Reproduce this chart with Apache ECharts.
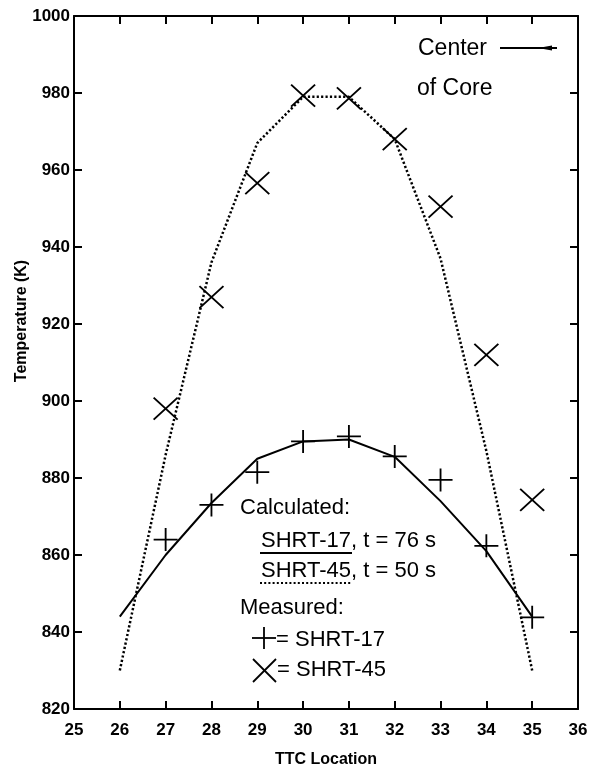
<!DOCTYPE html>
<html>
<head>
<meta charset="utf-8">
<script src="https://cdn.jsdelivr.net/npm/echarts@6/dist/echarts.min.js"></script>
<style>
  html, body { margin: 0; padding: 0; background: #fff; }
  #chart { width: 598px; height: 770px; }
</style>
</head>
<body>
<div id="chart"></div>
<script>
// TTC locations along the core
var locations = [26, 27, 28, 29, 30, 31, 32, 33, 34, 35];
var measLocations = [27, 28, 29, 30, 31, 32, 33, 34, 35];

// calculated profiles (K)
var calc17 = [844, 860, 873.5, 885, 889.5, 890, 885.5, 874, 861, 844];
var calc45 = [830, 886, 936, 967, 979, 979, 968, 937, 887, 830];

// measured (K)
var meas17 = [864, 873, 881.5, 889.5, 890.8, 885.6, 879.5, 862.4, 843.8];
var meas45 = [898, 927, 956.6, 979.3, 978.6, 968, 950.5, 912, 874.3];

var xRange = [25, 36];
var yRange = [820, 1000];

var plusPath = 'path://M0,10L20,10M10,0L10,20';
var crossPath = 'path://M0,0L20,20M20,0L0,20';

function pairs(xs, ys) {
  return xs.map(function (x, i) { return [x, ys[i]]; });
}

var FONT = '"Liberation Sans", Arial, Helvetica, sans-serif';

var chart = echarts.init(document.getElementById('chart'));

var axisLine = { show: true, lineStyle: { color: '#000', width: 2 } };
var tickIn = { show: true, inside: true, length: 8, lineStyle: { color: '#000', width: 2 } };
var tickLabel = { color: '#000', fontFamily: FONT, fontSize: 17, fontWeight: 'bold' };

chart.setOption({
  animation: false,
  backgroundColor: '#fff',
  grid: { left: 74, right: 20, top: 16, bottom: 61, outerBoundsMode: 'none', containLabel: false },
  xAxis: [
    {
      type: 'value', min: xRange[0], max: xRange[1], interval: 1,
      axisLine: axisLine, axisTick: tickIn,
      axisLabel: Object.assign({ margin: 13 }, tickLabel),
      splitLine: { show: false },
      name: 'TTC Location', nameLocation: 'middle', nameGap: 43,
      nameTextStyle: { color: '#000', fontFamily: FONT, fontSize: 16, fontWeight: 'bold' }
    },
    {
      type: 'value', position: 'top', min: xRange[0], max: xRange[1], interval: 1,
      axisLine: axisLine, axisTick: tickIn,
      axisLabel: { show: false }, splitLine: { show: false }
    }
  ],
  yAxis: [
    {
      type: 'value', min: yRange[0], max: yRange[1], interval: 20,
      axisLine: axisLine, axisTick: tickIn,
      axisLabel: Object.assign({ margin: 4, formatter: function (v) { return String(v); } }, tickLabel),
      splitLine: { show: false }
    },
    {
      type: 'value', position: 'right', min: yRange[0], max: yRange[1], interval: 20,
      axisLine: axisLine, axisTick: tickIn,
      axisLabel: { show: false }, splitLine: { show: false }
    }
  ],
  series: [
    {
      name: 'SHRT-17 calc', type: 'line', showSymbol: false,
      data: pairs(locations, calc17),
      lineStyle: { color: '#000', width: 2 }
    },
    {
      name: 'SHRT-45 calc', type: 'line', showSymbol: false,
      data: pairs(locations, calc45),
      lineStyle: { color: '#000', width: 2.5, type: [2.2, 2.2] }
    },
    {
      name: 'SHRT-17', type: 'scatter', symbol: plusPath, symbolSize: [24, 23],
      data: pairs(measLocations, meas17),
      itemStyle: { color: '#000', borderColor: '#000', borderWidth: 1.8, opacity: 1 }
    },
    {
      name: 'SHRT-45', type: 'scatter', symbol: crossPath, symbolSize: [24, 22],
      data: pairs(measLocations, meas45),
      itemStyle: { color: '#000', borderColor: '#000', borderWidth: 1.8, opacity: 1 }
    }
  ],
  graphic: [
    // y axis title
    { type: 'text', x: 22, y: 321, rotation: Math.PI / 2,
      style: { text: 'Temperature (K)', font: 'bold 16px ' + FONT, fill: '#000', align: 'center', verticalAlign: 'middle' } },
    // center of core note
    { type: 'text', x: 418, y: 49,
      style: { text: 'Center', font: '23px ' + FONT, fill: '#000', verticalAlign: 'middle' } },
    { type: 'text', x: 417, y: 89,
      style: { text: 'of Core', font: '23px ' + FONT, fill: '#000', verticalAlign: 'middle' } },
    { type: 'line', shape: { x1: 500, y1: 48, x2: 557, y2: 48 }, style: { stroke: '#000', lineWidth: 2 } },
    { type: 'polygon', shape: { points: [[538, 48], [552, 45.5], [552, 50.5]] }, style: { fill: '#000' } },
    // legend
    { type: 'text', x: 240, y: 508,
      style: { text: 'Calculated:', font: '22px ' + FONT, fill: '#000', verticalAlign: 'middle' } },
    { type: 'text', x: 261, y: 541,
      style: { text: 'SHRT-17, t = 76 s', font: '22px ' + FONT, fill: '#000', verticalAlign: 'middle' } },
    { type: 'line', shape: { x1: 260, y1: 553, x2: 352, y2: 553 }, style: { stroke: '#000', lineWidth: 2 } },
    { type: 'text', x: 261, y: 571,
      style: { text: 'SHRT-45, t = 50 s', font: '22px ' + FONT, fill: '#000', verticalAlign: 'middle' } },
    { type: 'line', shape: { x1: 260, y1: 583, x2: 352, y2: 583 }, style: { stroke: '#000', lineWidth: 2, lineDash: [2, 2.2] } },
    { type: 'text', x: 240, y: 608,
      style: { text: 'Measured:', font: '22px ' + FONT, fill: '#000', verticalAlign: 'middle' } },
    { type: 'line', shape: { x1: 252, y1: 638, x2: 276, y2: 638 }, style: { stroke: '#000', lineWidth: 1.8 } },
    { type: 'line', shape: { x1: 264, y1: 627, x2: 264, y2: 649 }, style: { stroke: '#000', lineWidth: 1.8 } },
    { type: 'text', x: 276, y: 640,
      style: { text: '= SHRT-17', font: '22px ' + FONT, fill: '#000', verticalAlign: 'middle' } },
    { type: 'line', shape: { x1: 253, y1: 659, x2: 276, y2: 682 }, style: { stroke: '#000', lineWidth: 1.8 } },
    { type: 'line', shape: { x1: 276, y1: 659, x2: 253, y2: 682 }, style: { stroke: '#000', lineWidth: 1.8 } },
    { type: 'text', x: 277, y: 670,
      style: { text: '= SHRT-45', font: '22px ' + FONT, fill: '#000', verticalAlign: 'middle' } }
  ]
});
</script>
</body>
</html>
